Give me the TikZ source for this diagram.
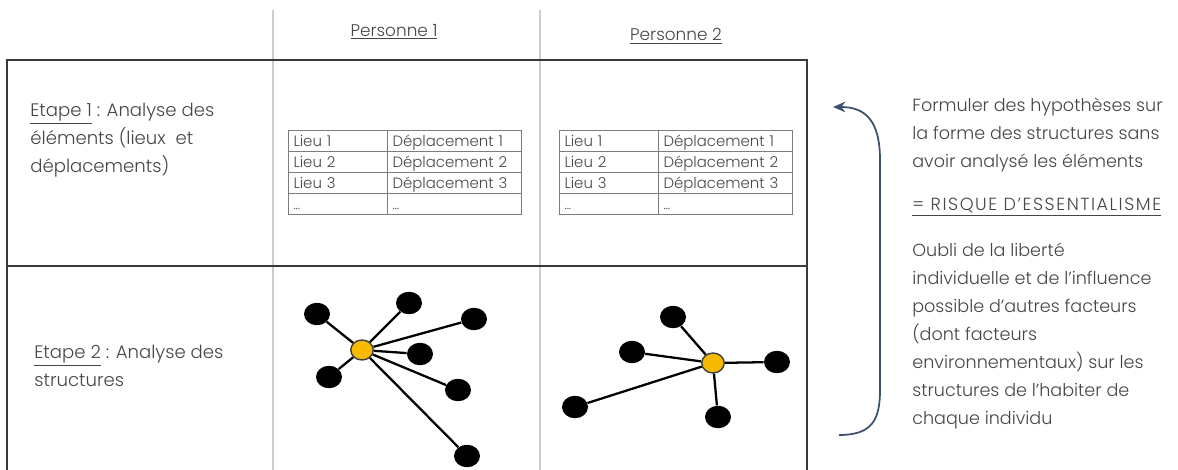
\documentclass[tikz,border=0pt]{standalone}
\usepackage{fontspec}
\setmainfont{Poppins}[UprightFont=* Light, BoldFont=* Medium]
\usepackage{tikz}
\usetikzlibrary{shapes.geometric, arrows.meta}
\definecolor{txtgray}{RGB}{70,70,70}
\definecolor{boxgray}{RGB}{58,58,58}
\definecolor{divgray}{RGB}{205,205,205}
\definecolor{tabgray}{RGB}{125,125,125}
\definecolor{hubyellow}{RGB}{247,186,0}
\definecolor{arrowblue}{RGB}{62,80,112}
\tikzset{
  steptext/.style={anchor=west, align=left, text=txtgray, inner sep=0pt,
    font=\fontsize{10.3}{15.9}\selectfont},
  sidetext/.style={anchor=west, align=left, text=txtgray, inner sep=0pt,
    font=\fontsize{10}{15.9}\selectfont},
  header/.style={text=txtgray, inner sep=0pt, font=\fontsize{9.6}{11}\selectfont},
  cellA/.style={draw=tabgray, line width=0.5pt, minimum height=0.42cm,
    text width=1.76cm, inner xsep=0.11cm, inner ysep=0pt, align=left,
    text height=1.55ex, text depth=0.25ex,
    text=txtgray, font=\fontsize{8.5}{9}\selectfont},
  cellB/.style={cellA, text width=2.46cm},
  leaf/.style={ellipse, fill=black, minimum width=0.52cm, minimum height=0.45cm, inner sep=0pt},
  hub/.style={ellipse, fill=hubyellow, draw=black!75, line width=0.8pt,
    minimum width=0.45cm, minimum height=0.4cm, inner sep=0pt},
  edge/.style={line width=1.3pt, black},
  frame/.style={boxgray, line width=1.3pt},
  divider/.style={divgray, line width=0.6pt}
}

\begin{document}
\begin{tikzpicture}[x=0.02cm, y=-0.02cm]
  \useasboundingbox (0,0) rectangle (1178,470);

  % column dividers and outer frame
  \draw[divider] (273,10) -- (273,470);
  \draw[divider] (540,10) -- (540,470);
  \draw[frame] (7,470) -- (7,60) -- (807,60) -- (807,470);
  \draw[frame] (7,266) -- (807,266);

  % headers
  \node[header] (pers1) at (394,32) {\underline{Personne 1}};
  \node[header] (pers2) at (676,36) {\underline{Personne 2}};

  % row labels
  \node[steptext] (etape1) at (30,140) {\underline{Etape 1} : Analyse des\\éléments (lieux\ \ et\\déplacements)};
  \node[steptext] (etape2) at (34,366) {\underline{Etape 2} : Analyse des\\structures};

  % tables of lieux / deplacements
  \foreach \p/\xl in {1/288, 2/559} {
    \foreach \n in {1,2,3} {
      \node[cellA] (lieu\p-\n) at (\xl+49.5,119.5+21*\n) {Lieu \n};
      \node[cellB] (depl\p-\n) at (\xl+166,119.5+21*\n) {Déplacement \n};
    }
    \node[cellA] (lieu\p-4) at (\xl+49.5,203.5) {\scriptsize ...};
    \node[cellB] (depl\p-4) at (\xl+166,203.5) {\scriptsize ...};
  }

  % structure of personne 1
  \node[hub] (hubA) at (362,350) {};
  \node[leaf] (a1) at (317,314) {};
  \node[leaf] (a2) at (409,303) {};
  \node[leaf] (a3) at (474,319) {};
  \node[leaf] (a4) at (420,354) {};
  \node[leaf] (a5) at (329,377) {};
  \node[leaf] (a6) at (458,390) {};
  \node[leaf] (a7) at (467,456) {};
  \foreach \l in {a1,a2,a3,a4,a5,a6,a7}
    \draw[edge] (hubA) -- (\l);

  % structure of personne 2
  \node[hub] (hubB) at (713,363) {};
  \node[leaf] (b1) at (673,317) {};
  \node[leaf] (b2) at (632,352) {};
  \node[leaf] (b3) at (575,407) {};
  \node[leaf] (b4) at (777,362) {};
  \node[leaf] (b5) at (718,417) {};
  \foreach \l in {b1,b2,b3,b4,b5}
    \draw[edge] (hubB) -- (\l);

  % feedback arrow
  \coordinate (arrowend) at (833,107);
  \coordinate (arrowstart) at (839,435);
  \draw[arrowblue, line width=1pt, -{Stealth[length=7pt, width=6pt]}]
    (arrowstart) .. controls (872,435) and (880,420) .. (880,390)
    -- (880,160) .. controls (880,120) and (865,107) .. (arrowend);

  % comments on the right
  \node[sidetext] (hypo) at (912,135) {Formuler des hypothèses sur\\la forme des structures sans\\avoir analysé les éléments};
  \node[sidetext] (risk) at (912,207) {\addfontfeatures{LetterSpace=9}\underline{= RISQUE D’ESSENTIALISME}};
  \node[sidetext] (oubli) at (912,336) {Oubli de la liberté\\individuelle et de l’influence\\possible d’autres facteurs\\(dont facteurs\\environnementaux) sur les\\structures de l’habiter de\\chaque individu};
\end{tikzpicture}
\end{document}
